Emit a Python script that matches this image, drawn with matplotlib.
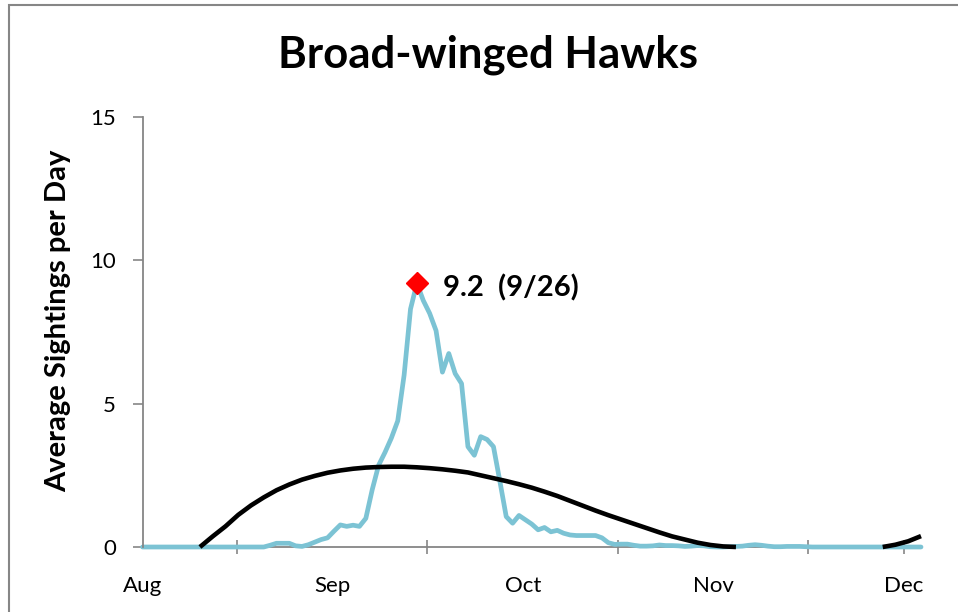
import numpy as np
import matplotlib
matplotlib.use("Agg")
import matplotlib.pyplot as plt

plt.rcParams['font.family'] = ['Lato', 'DejaVu Sans']

# daily average sightings, one value per day starting mid-August
daily_avg = [
    0, 0, 0, 0, 0, 0, 0, 0, 0, 0,
    0, 0, 0, 0, 0, 0, 0, 0, 0, 0,
    0.06, 0.13, 0.13, 0.13, 0.04, 0.02, 0.08, 0.17, 0.26, 0.32,
    0.55, 0.77, 0.72, 0.76, 0.72, 1.0, 2.0, 2.85, 3.3, 3.8,
    4.4, 6.0, 8.3, 9.2, 8.6, 8.15, 7.55, 6.1, 6.75, 6.05,
    5.7, 3.5, 3.2, 3.85, 3.75, 3.5, 2.3, 1.06, 0.83, 1.1,
    0.95, 0.8, 0.6, 0.68, 0.53, 0.58, 0.48, 0.42, 0.4, 0.4,
    0.4, 0.4, 0.32, 0.15, 0.09, 0.1, 0.1, 0.06, 0.03, 0.03,
    0.04, 0.07, 0.05, 0.05, 0.04, 0.02, 0.03, 0.05, 0.04, 0.01,
    0, 0, 0.01, 0.02, 0.03, 0.06, 0.08, 0.06, 0.03, 0.01,
    0.01, 0.02, 0.02, 0.02, 0.01, 0, 0, 0, 0, 0,
    0, 0, 0, 0, 0, 0, 0, 0, 0, 0,
    0, 0, 0,
]

# trend line (drops below the axis between early Nov and early Dec)
trend_days = [9, 11, 13, 15, 17, 19, 21, 23, 25, 27, 29, 31, 33, 35, 37, 39,
              41, 43, 45, 47, 49, 51, 53, 55, 57, 59, 61, 63, 65, 67, 69, 71,
              73, 75, 77, 79, 81, 83, 85, 87, 89, 91, 93, 100, 116, 118, 120, 122]
trend_vals = [0.0, 0.37, 0.72, 1.12, 1.45, 1.73, 1.98, 2.18, 2.35, 2.48, 2.59,
              2.67, 2.73, 2.77, 2.79, 2.8, 2.8, 2.78, 2.75, 2.71, 2.66, 2.6,
              2.5, 2.4, 2.3, 2.19, 2.07, 1.93, 1.78, 1.61, 1.44, 1.27, 1.11,
              0.96, 0.81, 0.66, 0.51, 0.37, 0.26, 0.15, 0.07, 0.02, 0.0,
              np.nan, 0.0, 0.08, 0.2, 0.38]

peak_day = 43
peak_val = 9.2
peak_label = "9.2  (9/26)"

month_labels = ["Aug", "Sep", "Oct", "Nov", "Dec"]
month_pos = [0, 29.8, 59.7, 89.5, 119.3]
tick_pos = [14.8, 44.6, 74.5, 104.3, 119.3]

axis_gray = "#868686"

fig = plt.figure(figsize=(9.58, 6.12), dpi=100)
ax = fig.add_axes([142.5 / 958, 65 / 612, 778.5 / 958, 430 / 612])

days = np.arange(len(daily_avg))
ax.plot(days, daily_avg, color="#7CC3D4", lw=3.4, solid_joinstyle="round",
        solid_capstyle="round", zorder=2, clip_on=False)
ax.plot(trend_days, trend_vals, color="black", lw=3.3, zorder=3,
        solid_capstyle="butt", clip_on=False)
ax.plot([peak_day], [peak_val], marker="D", color="#FF0000", markersize=11,
        zorder=4, clip_on=False)
ax.annotate(peak_label, (peak_day, peak_val), xytext=(19, -3),
            textcoords="offset points", ha="left", va="center",
            fontsize=21, fontweight="bold")

ax.set_xlim(0, 122)
ax.set_ylim(0, 15)
ax.set_yticks([0, 5, 10, 15])

ax.xaxis.remove_overlapping_locs = False
ax.set_xticks(tick_pos)
ax.set_xticklabels([])
ax.set_xticks(month_pos, minor=True)
ax.set_xticklabels(month_labels, minor=True)
ax.tick_params(axis="x", which="major", direction="inout", length=10,
               width=1.2, color=axis_gray)
ax.tick_params(axis="x", which="minor", length=0, pad=21, labelsize=16)
ax.tick_params(axis="y", direction="out", length=7, width=1.2,
               color=axis_gray, pad=12, labelsize=16)

for side in ["top", "right"]:
    ax.spines[side].set_visible(False)
for side in ["left", "bottom"]:
    ax.spines[side].set_color(axis_gray)
    ax.spines[side].set_linewidth(1.3)
ax.spines["bottom"].set_zorder(1)

ax.set_ylabel("Average Sightings per Day", fontsize=21, fontweight="bold")
ax.yaxis.set_label_coords(-0.092, 0.526)

fig.text(0.509, 0.91, "Broad-winged Hawks", ha="center", va="center",
         fontsize=31.5, fontweight="bold")

# outer chart border (only left and top edges are in frame)
border = plt.Rectangle((9 / 958, -0.05), 1.1, 1.05 - 4.5 / 612,
                       transform=fig.transFigure, fill=False,
                       edgecolor=axis_gray, lw=1.5)
fig.patches.append(border)

fig.savefig("out.png", dpi=100)
